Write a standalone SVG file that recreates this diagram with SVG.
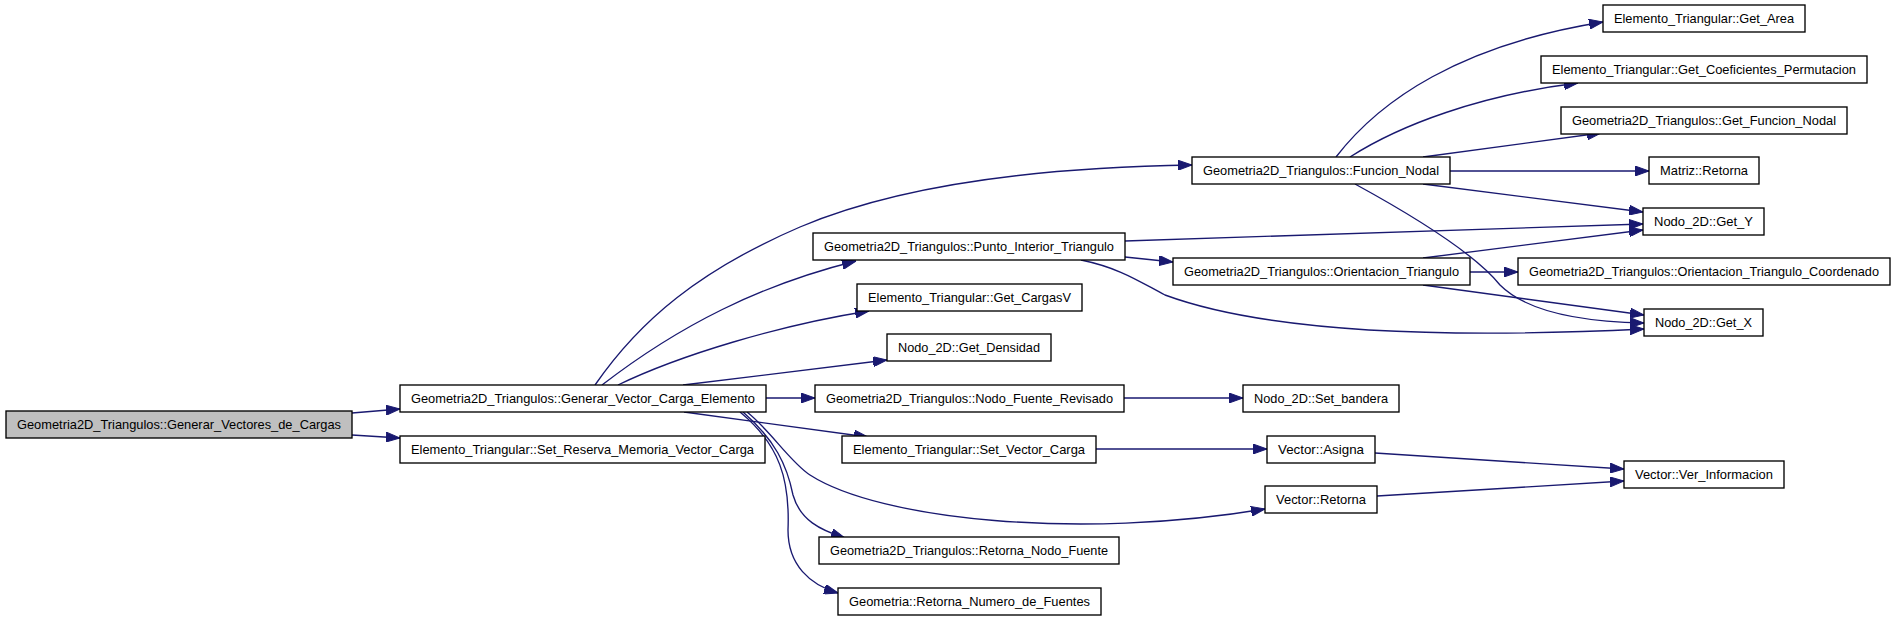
<svg xmlns="http://www.w3.org/2000/svg" width="1896" height="620" viewBox="0 0 1896 620">
<style>
.n rect{fill:#fff;stroke:#000;stroke-width:1.35}
.n.r rect{fill:#bfbfbf}
.n text{font-family:"Liberation Sans",Arial,sans-serif;font-size:13px;text-anchor:middle;fill:#000}
.e path{fill:none;stroke:#191970;stroke-width:1.35;marker-end:url(#a)}
</style>
<defs>
<marker id="a" markerUnits="userSpaceOnUse" markerWidth="14" markerHeight="10" viewBox="0 0 14 10" refX="14" refY="5" orient="auto">
<path d="M0,0 L14,5 L0,10 z" fill="#191970" stroke="#191970"/>
</marker>
</defs>
<rect width="1896" height="620" fill="#fff"/>
<g id="edges" class="e">
<path d="M352,413 L400,409"/>
<path d="M352,435 L400,438"/>
<path d="M595,385 C640,320 700,270 800,227 C880,193 1000,168 1192,165"/>
<path d="M602,385 C680,325 760,285 856,261"/>
<path d="M618,385 C680,355 780,325 869,311"/>
<path d="M683,385 L887,360"/>
<path d="M765,398 L815,398"/>
<path d="M684,412 L868,437"/>
<path d="M747,412 C770,430 790,462 810,475 C880,520 1080,540 1265,509"/>
<path d="M743,412 C775,440 787,465 793,495 C800,520 820,530 845,538"/>
<path d="M740,412 C780,445 790,480 788,530 C788,565 810,585 838,593"/>
<path d="M1336,157 C1380,100 1460,45 1603,22"/>
<path d="M1350,157 C1400,125 1480,95 1578,83"/>
<path d="M1423,157 L1601,133"/>
<path d="M1450,171 L1649,171"/>
<path d="M1423,184 L1643,212"/>
<path d="M1355,184 C1430,225 1480,260 1500,285 C1530,315 1590,322 1644,323"/>
<path d="M1125,241 L1643,224"/>
<path d="M1125,257 L1173,262"/>
<path d="M1081,260 C1120,268 1140,282 1165,295 C1260,330 1420,340 1644,329"/>
<path d="M1423,258 L1643,230"/>
<path d="M1470,272 L1518,272"/>
<path d="M1423,285 L1644,315"/>
<path d="M1124,398 L1243,398"/>
<path d="M1096,449 L1267,449"/>
<path d="M1375,453 L1624,469"/>
<path d="M1377,496 L1624,481"/>
</g>
<g id="n_root" class="n r"><rect x="6" y="411" width="346" height="27"/><text x="179" y="429" textLength="324" lengthAdjust="spacingAndGlyphs">Geometria2D_Triangulos::Generar_Vectores_de_Cargas</text></g>
<g id="n_generar" class="n"><rect x="400" y="385" width="366" height="27"/><text x="583" y="403" textLength="344" lengthAdjust="spacingAndGlyphs">Geometria2D_Triangulos::Generar_Vector_Carga_Elemento</text></g>
<g id="n_reserva" class="n"><rect x="400" y="436" width="365" height="27"/><text x="582.5" y="454" textLength="343" lengthAdjust="spacingAndGlyphs">Elemento_Triangular::Set_Reserva_Memoria_Vector_Carga</text></g>
<g id="n_funcion" class="n"><rect x="1192" y="157" width="258" height="27"/><text x="1321" y="175" textLength="236" lengthAdjust="spacingAndGlyphs">Geometria2D_Triangulos::Funcion_Nodal</text></g>
<g id="n_punto" class="n"><rect x="813" y="233" width="312" height="27"/><text x="969" y="251" textLength="290" lengthAdjust="spacingAndGlyphs">Geometria2D_Triangulos::Punto_Interior_Triangulo</text></g>
<g id="n_cargasv" class="n"><rect x="857" y="284" width="225" height="27"/><text x="969.5" y="302" textLength="203" lengthAdjust="spacingAndGlyphs">Elemento_Triangular::Get_CargasV</text></g>
<g id="n_densidad" class="n"><rect x="887" y="334" width="164" height="27"/><text x="969" y="352" textLength="142" lengthAdjust="spacingAndGlyphs">Nodo_2D::Get_Densidad</text></g>
<g id="n_fuenterev" class="n"><rect x="815" y="385" width="309" height="27"/><text x="969.5" y="403" textLength="287" lengthAdjust="spacingAndGlyphs">Geometria2D_Triangulos::Nodo_Fuente_Revisado</text></g>
<g id="n_setvector" class="n"><rect x="842" y="436" width="254" height="27"/><text x="969" y="454" textLength="232" lengthAdjust="spacingAndGlyphs">Elemento_Triangular::Set_Vector_Carga</text></g>
<g id="n_retnodo" class="n"><rect x="819" y="537" width="300" height="27"/><text x="969" y="555" textLength="278" lengthAdjust="spacingAndGlyphs">Geometria2D_Triangulos::Retorna_Nodo_Fuente</text></g>
<g id="n_retnum" class="n"><rect x="838" y="588" width="263" height="27"/><text x="969.5" y="606" textLength="241" lengthAdjust="spacingAndGlyphs">Geometria::Retorna_Numero_de_Fuentes</text></g>
<g id="n_area" class="n"><rect x="1603" y="5" width="202" height="27"/><text x="1704" y="23" textLength="180" lengthAdjust="spacingAndGlyphs">Elemento_Triangular::Get_Area</text></g>
<g id="n_coef" class="n"><rect x="1541" y="56" width="326" height="27"/><text x="1704" y="74" textLength="304" lengthAdjust="spacingAndGlyphs">Elemento_Triangular::Get_Coeficientes_Permutacion</text></g>
<g id="n_getfuncion" class="n"><rect x="1561" y="107" width="286" height="27"/><text x="1704" y="125" textLength="264" lengthAdjust="spacingAndGlyphs">Geometria2D_Triangulos::Get_Funcion_Nodal</text></g>
<g id="n_matriz" class="n"><rect x="1649" y="157" width="110" height="27"/><text x="1704" y="175" textLength="88" lengthAdjust="spacingAndGlyphs">Matriz::Retorna</text></g>
<g id="n_gety" class="n"><rect x="1643" y="208" width="121" height="27"/><text x="1703.5" y="226" textLength="99" lengthAdjust="spacingAndGlyphs">Nodo_2D::Get_Y</text></g>
<g id="n_orient" class="n"><rect x="1173" y="258" width="297" height="27"/><text x="1321.5" y="276" textLength="275" lengthAdjust="spacingAndGlyphs">Geometria2D_Triangulos::Orientacion_Triangulo</text></g>
<g id="n_orientc" class="n"><rect x="1518" y="258" width="372" height="27"/><text x="1704" y="276" textLength="350" lengthAdjust="spacingAndGlyphs">Geometria2D_Triangulos::Orientacion_Triangulo_Coordenado</text></g>
<g id="n_getx" class="n"><rect x="1644" y="309" width="119" height="27"/><text x="1703.5" y="327" textLength="97" lengthAdjust="spacingAndGlyphs">Nodo_2D::Get_X</text></g>
<g id="n_bandera" class="n"><rect x="1243" y="385" width="156" height="27"/><text x="1321" y="403" textLength="134" lengthAdjust="spacingAndGlyphs">Nodo_2D::Set_bandera</text></g>
<g id="n_asigna" class="n"><rect x="1267" y="436" width="108" height="27"/><text x="1321" y="454" textLength="86" lengthAdjust="spacingAndGlyphs">Vector::Asigna</text></g>
<g id="n_vretorna" class="n"><rect x="1265" y="486" width="112" height="27"/><text x="1321" y="504" textLength="90" lengthAdjust="spacingAndGlyphs">Vector::Retorna</text></g>
<g id="n_verinfo" class="n"><rect x="1624" y="461" width="160" height="27"/><text x="1704" y="479" textLength="138" lengthAdjust="spacingAndGlyphs">Vector::Ver_Informacion</text></g>
</svg>
